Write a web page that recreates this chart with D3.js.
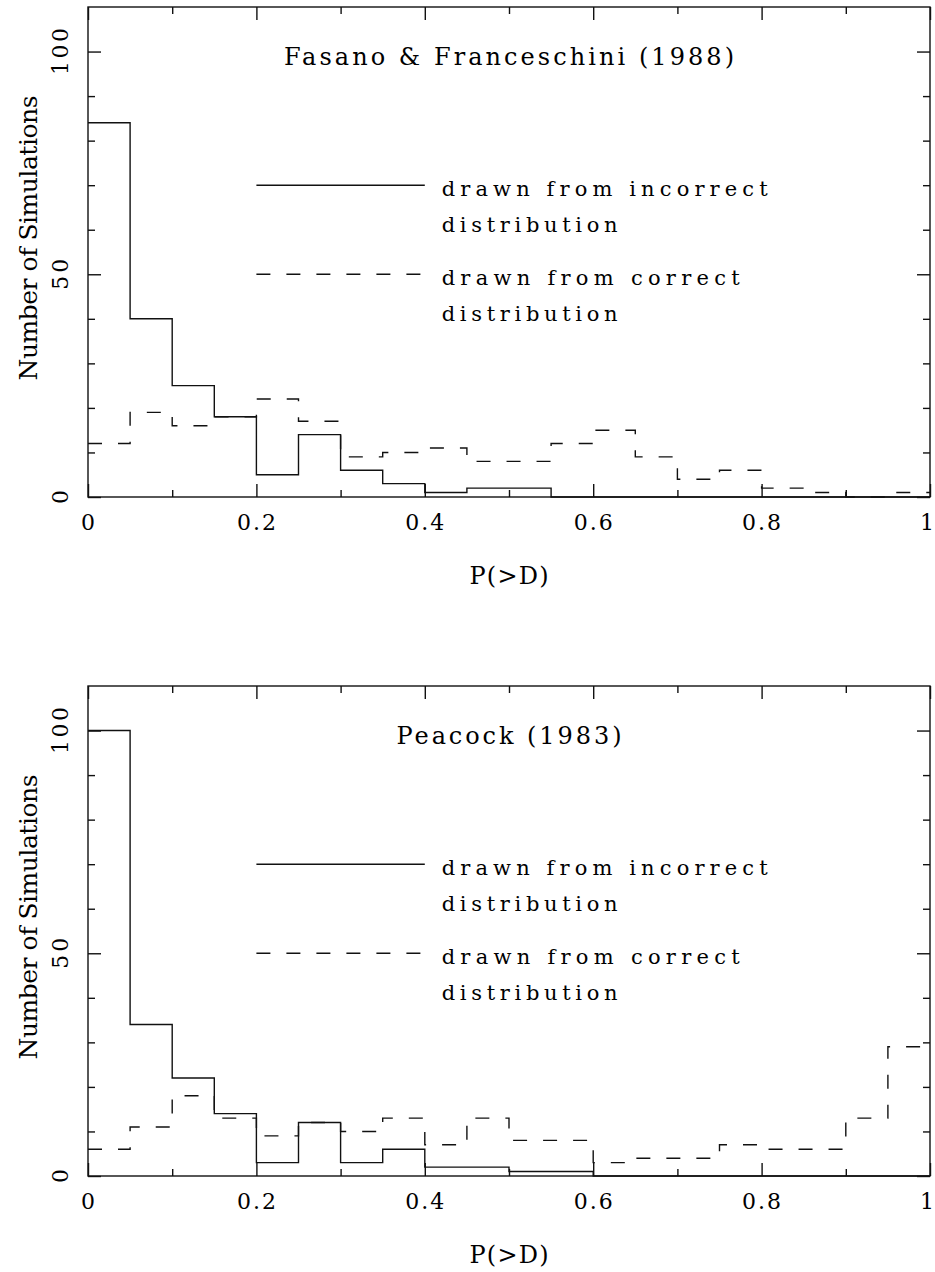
<!DOCTYPE html>
<html>
<head>
<meta charset="utf-8">
<script src="https://cdn.jsdelivr.net/npm/d3@7"></script>
<style>
  html, body { margin: 0; padding: 0; background: #fff; }
  svg { display: block; }
  text { font-family: "DejaVu Serif", "Liberation Serif", serif; fill: #000; }
</style>
</head>
<body>
<svg id="chart" width="935" height="1272"></svg>
<script>
// Left edges of the P(>D) bins (bin width 0.05)
const binLeft = [0, 0.05, 0.1, 0.15, 0.2, 0.25, 0.3, 0.35, 0.4, 0.45,
                 0.5, 0.55, 0.6, 0.65, 0.7, 0.75, 0.8, 0.85, 0.9, 0.95];
const binWidth = 0.05;

// Fasano & Franceschini (1988) test: counts per bin
const fasanoIncorrect = [84, 40, 25, 18, 5, 14, 6, 3, 1, 2, 2, 0, 0, 0, 0, 0, 0, 0, 0, 0];
const fasanoCorrect   = [12, 19, 16, 18, 22, 17, 9, 10, 11, 8, 8, 12, 15, 9, 4, 6, 2, 1, 0, 1];

// Peacock (1983) test: counts per bin
const peacockIncorrect = [100, 34, 22, 14, 3, 12, 3, 6, 2, 2, 1, 1, 0, 0, 0, 0, 0, 0, 0, 0];
const peacockCorrect   = [6, 11, 18, 13, 9, 12, 10, 13, 7, 13, 8, 8, 3, 4, 4, 7, 6, 6, 13, 29];

// Axis ticks and labels
const xMajorTicks = [0, 0.2, 0.4, 0.6, 0.8, 1];
const xMajorLabels = ["0", "0.2", "0.4", "0.6", "0.8", "1"];
const xMinorTicks = [0.1, 0.3, 0.5, 0.7, 0.9];
const yMajorTicks = [0, 50, 100];
const yMajorLabels = ["0", "50", "100"];
const yMinorTicks = [10, 20, 30, 40, 60, 70, 80, 90];
const xDomain = [0, 1];
const yDomain = [0, 110];

const panelTitles = ["Fasano & Franceschini (1988)", "Peacock (1983)"];
const legendLabels = [["drawn from incorrect", "distribution"], ["drawn from correct", "distribution"]];
const legendLevels = [70, 50];
const xAxisTitle = "P(>D)";
const yAxisTitle = "Number of Simulations";

const W = 935, H = 1272;
const svg = d3.select("#chart");
svg.append("rect").attr("width", W).attr("height", H).attr("fill", "#fff");

const LW = 1.4;
const DASH = "14,16";
const INK = "#111";

// stretch a text element to a given advance width
function fit(sel, w) {
  if (w) sel.attr("textLength", w).attr("lengthAdjust", "spacing");
  return sel;
}

function drawPanel(top, title, titleWidth, incorrect, correct) {
  const left = 88, right = 930, bottom = top + 490;
  const x = d3.scaleLinear().domain(xDomain).range([left, right]);
  const y = d3.scaleLinear().domain(yDomain).range([bottom, top]);
  const g = svg.append("g");

  // histograms as step lines
  const stepLine = d3.line().x(d => x(d[0])).y(d => y(d[1])).curve(d3.curveStepAfter);
  function steps(vals) {
    const pts = binLeft.map((b, i) => [b, vals[i]]);
    pts.push([binLeft[binLeft.length - 1] + binWidth, vals[vals.length - 1]]);
    return pts;
  }
  g.append("path").attr("d", stepLine(steps(correct)))
    .attr("fill", "none").attr("stroke", INK).attr("stroke-width", LW)
    .attr("stroke-dasharray", DASH);
  g.append("path").attr("d", stepLine(steps(incorrect)))
    .attr("fill", "none").attr("stroke", INK).attr("stroke-width", LW);

  // frame
  g.append("rect").attr("x", left).attr("y", top)
    .attr("width", right - left).attr("height", bottom - top)
    .attr("fill", "none").attr("stroke", INK).attr("stroke-width", LW);

  // inward ticks on all four sides via d3 axes
  const maj = 13, mnr = 7;
  const addAxis = (axis, tx, ty) => {
    const a = g.append("g").attr("transform", `translate(${tx},${ty})`).call(axis);
    a.select(".domain").remove();
    a.selectAll(".tick line").attr("stroke", INK).attr("stroke-width", LW);
    a.selectAll(".tick text").remove();
  };
  addAxis(d3.axisTop(x).tickValues(xMajorTicks).tickSize(maj), 0, bottom);
  addAxis(d3.axisTop(x).tickValues(xMinorTicks).tickSize(mnr), 0, bottom);
  addAxis(d3.axisBottom(x).tickValues(xMajorTicks).tickSize(maj), 0, top);
  addAxis(d3.axisBottom(x).tickValues(xMinorTicks).tickSize(mnr), 0, top);
  addAxis(d3.axisRight(y).tickValues(yMajorTicks).tickSize(maj), left, 0);
  addAxis(d3.axisRight(y).tickValues(yMinorTicks).tickSize(mnr), left, 0);
  addAxis(d3.axisLeft(y).tickValues(yMajorTicks).tickSize(maj), right, 0);
  addAxis(d3.axisLeft(y).tickValues(yMinorTicks).tickSize(mnr), right, 0);

  // x tick labels (kept inside the page at the right edge)
  xMajorTicks.forEach((v, i) => {
    const t = g.append("text").attr("x", x(v)).attr("y", bottom + 33)
      .attr("text-anchor", "middle").attr("font-size", 22).text(xMajorLabels[i]);
    if (xMajorLabels[i].length > 1) fit(t, 39);
    const bb = t.node().getBBox();
    if (bb.x + bb.width > W - 1) t.attr("x", x(v) - (bb.x + bb.width - (W - 1)));
  });
  // y tick labels, rotated
  const yLabW = { "0": 0, "50": 31, "100": 47 };
  yMajorTicks.forEach((v, i) => {
    const t = g.append("text").attr("transform", `translate(68,${y(v)}) rotate(-90)`)
      .attr("text-anchor", "middle").attr("font-size", 22).text(yMajorLabels[i]);
    fit(t, yLabW[yMajorLabels[i]]);
  });

  // axis titles
  fit(g.append("text").attr("x", (left + right) / 2).attr("y", bottom + 87)
    .attr("text-anchor", "middle").attr("font-size", 24).text(xAxisTitle), 79);
  fit(g.append("text").attr("transform", `translate(37,${top + 231}) rotate(-90)`)
    .attr("text-anchor", "middle").attr("font-size", 25).text(yAxisTitle), 285);

  // panel title
  fit(g.append("text").attr("x", (left + right) / 2).attr("y", top + 58)
    .attr("text-anchor", "middle").attr("font-size", 24).text(title), titleWidth);

  // legend
  const legendDash = [null, DASH];
  const lineWidths = [[326, 176], [298, 176]];
  legendLevels.forEach((lv, k) => {
    const ly = y(lv);
    const ln = g.append("line").attr("x1", x(0.2)).attr("x2", x(0.4))
      .attr("y1", ly).attr("y2", ly).attr("stroke", INK).attr("stroke-width", LW);
    if (legendDash[k]) ln.attr("stroke-dasharray", legendDash[k]);
    legendLabels[k].forEach((s, j) => {
      fit(g.append("text").attr("x", x(0.42)).attr("y", ly + 11 + j * 36)
        .attr("font-size", 21).text(s), lineWidths[k][j]);
    });
  });
}

drawPanel(7, panelTitles[0], 450, fasanoIncorrect, fasanoCorrect);
drawPanel(686, panelTitles[1], 225, peacockIncorrect, peacockCorrect);
</script>
</body>
</html>
